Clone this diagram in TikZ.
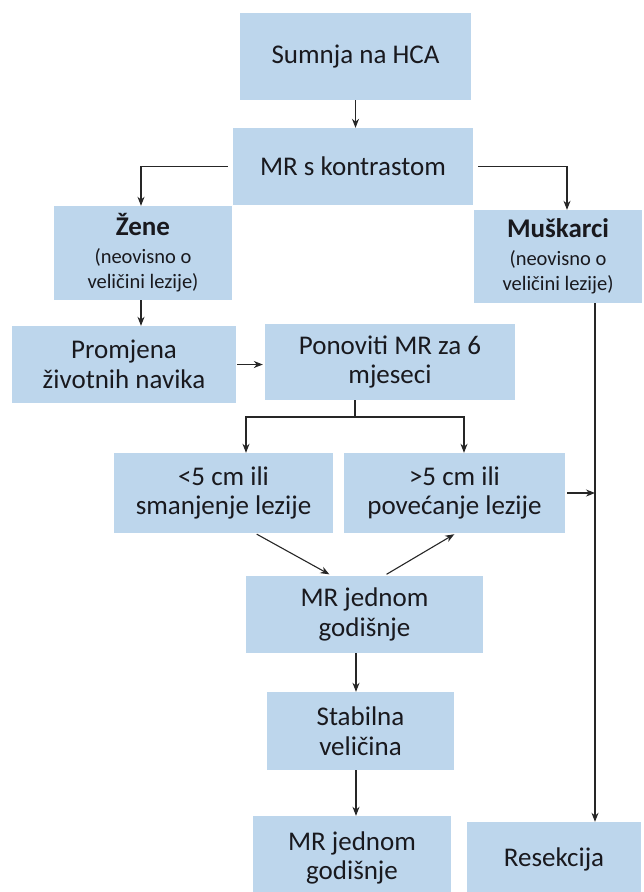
\documentclass[tikz,border=0pt]{standalone}
\usepackage{fontspec}
\setmainfont{Carlito}
\usetikzlibrary{arrows.meta}
\definecolor{boxblue}{RGB}{189,214,236}
\definecolor{txt}{RGB}{25,25,30}
\tikzset{
  box/.style={fill=boxblue, draw=none, align=center, inner sep=0pt, text=txt,
    font=\fontsize{27}{29.5}\selectfont},
  arr/.style={-{Stealth[length=9pt,width=7pt]}, line width=1.1pt, draw=black!85},
  ln/.style={line width=1.1pt, draw=black!85},
}
\newcommand{\smalltxt}{\fontsize{20.5}{25}\selectfont}
\begin{document}
\begin{tikzpicture}[x=1pt,y=-1pt]
\useasboundingbox (0,0) rectangle (644,892);
\node[box, minimum width=231, minimum height=87] (sum) at (355.5,56.5) {Sumnja na HCA};
\node[box, minimum width=240, minimum height=77] (mrk) at (353,166.5) {MR s kontrastom};
\node[box, minimum width=178, minimum height=94] (zene) at (143,253)
  {\textbf{Žene}\\[-2pt]{\smalltxt (neovisno o}\\[-4pt]{\smalltxt veličini lezije)}};
\node[box, minimum width=168, minimum height=93] (musk) at (558,256.5)
  {\textbf{Muškarci}\\[-2pt]{\smalltxt (neovisno o}\\[-4pt]{\smalltxt veličini lezije)}};
\node[box, minimum width=224, minimum height=77] (prom) at (124,364.5) {Promjena\\životnih navika};
\node[box, minimum width=250, minimum height=76] (pon) at (390,362) {Ponoviti MR za 6\\mjeseci};
\node[box, minimum width=219, minimum height=80] (lt5) at (223.5,493) {<5 cm ili\\smanjenje lezije};
\node[box, minimum width=221, minimum height=80] (gt5) at (454.5,493) {>5 cm ili\\povećanje lezije};
\node[box, minimum width=237, minimum height=77] (mrj) at (364.5,614.5) {MR jednom\\godišnje};
\node[box, minimum width=187, minimum height=78] (stab) at (360.5,731) {Stabilna\\veličina};
\node[box, minimum width=198, minimum height=84] (mrj2) at (352,858) {MR jednom\\godišnje};
\node[box, minimum width=174, minimum height=74] (res) at (554,859) {Resekcija};

\draw[arr] (sum.south) -- (sum.south |- mrk.north);
\draw[arr, shorten <=5pt] (mrk.west) -| ([xshift=-2]zene.north);
\draw[arr, shorten <=5pt] (mrk.east) -| ([xshift=9]musk.north);
\draw[arr] ([xshift=-2]zene.south) -- ([xshift=-2]zene.south |- prom.north);
\draw[arr, shorten <=1pt, shorten >=2pt] (prom.east) -- (pon.west |- prom.east);
\coordinate (split) at ([xshift=-35]pon.south |- 0,417);
\draw[ln] ([xshift=-35]pon.south) -- (split);
\draw[arr] (split) -| ([xshift=22.5]lt5.north);
\draw[arr] (split) -| ([xshift=9.5]gt5.north);
\draw[arr, shorten <=2pt, shorten >=3pt] ([xshift=31.5]lt5.south) -- ([xshift=-32.5]mrj.north);
\draw[arr, shorten <=3pt, shorten >=2pt] ([xshift=19.5]mrj.north) -- ([xshift=1.5]gt5.south);
\coordinate (vl) at ([xshift=37]musk.south);
\draw[arr] (vl) -- ([xshift=41]res.north);
\draw[arr, shorten <=2pt] (gt5.east) -- (vl |- gt5.east);
\draw[arr] ([xshift=-8.5]mrj.south) -- ([xshift=-8.5]mrj.south |- stab.north);
\draw[arr] ([xshift=-4.5]stab.south) -- ([xshift=-4.5]stab.south |- mrj2.north);
\end{tikzpicture}
\end{document}
